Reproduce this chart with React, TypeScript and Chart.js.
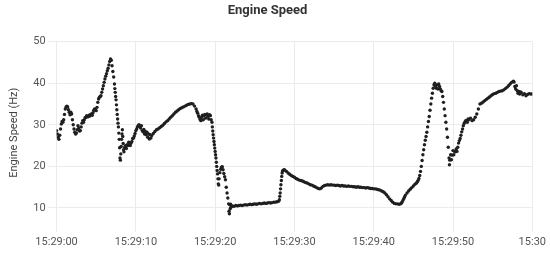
import React, { useEffect, useRef } from "react";
import { Chart, registerables } from "chart.js";

Chart.register(...registerables);

// seconds after 15:29:00
const secs = [
  0, 0.1, 0.2, 0.3, 0.4, 0.5, 0.6, 0.7, 0.8, 0.9, 1.0, 1.1, 1.2, 1.3, 1.4, 1.5, 1.6, 1.7, 1.8, 1.9,
  2.0, 2.1, 2.2, 2.3, 2.4, 2.5, 2.6, 2.7, 2.8, 2.9, 3.0, 3.1, 3.2, 3.3, 3.4, 3.5, 3.6, 3.7, 3.8, 3.9,
  4.0, 4.1, 4.2, 4.3, 4.4, 4.5, 4.6, 4.7, 4.8, 4.9, 5.0, 5.1, 5.2, 5.3, 5.4, 5.5, 5.6, 5.7, 5.8, 5.9,
  6.0, 6.1, 6.2, 6.3, 6.4, 6.5, 6.6, 6.7, 6.8, 6.9, 7.0, 7.1, 7.2, 7.3, 7.35, 7.4, 7.45, 7.5, 7.55, 7.6,
  7.65, 7.7, 7.75, 7.8, 7.85, 7.9, 7.95, 8.0, 8.05, 8.1, 8.15, 8.2, 8.25, 8.3, 8.35, 8.4, 8.45, 8.5, 8.6, 8.7,
  8.8, 8.9, 9.0, 9.1, 9.2, 9.3, 9.4, 9.5, 9.6, 9.7, 9.8, 9.9, 10.0, 10.1, 10.2, 10.3, 10.4, 10.5, 10.6, 10.7,
  10.8, 10.9, 11.0, 11.1, 11.2, 11.3, 11.4, 11.5, 11.6, 11.7, 11.8, 11.9, 12.0, 12.2, 12.4, 12.6, 12.8, 13.0, 13.2, 13.4,
  13.6, 13.8, 14.0, 14.2, 14.4, 14.6, 14.8, 15.0, 15.2, 15.4, 15.6, 15.8, 16.0, 16.2, 16.4, 16.6, 16.8, 17.0, 17.2, 17.4,
  17.6, 17.7, 17.8, 17.9, 18.0, 18.1, 18.2, 18.3, 18.4, 18.5, 18.6, 18.7, 18.8, 18.9, 19.0, 19.1, 19.2, 19.3, 19.4, 19.5,
  19.6, 19.65, 19.7, 19.75, 19.8, 19.85, 19.9, 19.95, 20.0, 20.05, 20.1, 20.15, 20.2, 20.25, 20.3, 20.35, 20.4, 20.45, 20.5, 20.6,
  20.7, 20.8, 20.9, 21.0, 21.1, 21.2, 21.3, 21.4, 21.5, 21.6, 21.7, 21.75, 21.8, 21.85, 21.9, 21.95, 22.0, 22.1, 22.2, 22.4,
  22.6, 22.8, 23.0, 23.2, 23.4, 23.6, 23.8, 24.0, 24.2, 24.4, 24.6, 24.8, 25.0, 25.2, 25.4, 25.6, 25.8, 26.0, 26.2, 26.4,
  26.6, 26.8, 27.0, 27.2, 27.4, 27.6, 27.8, 28.0, 28.1, 28.15, 28.2, 28.25, 28.3, 28.35, 28.4, 28.45, 28.5, 28.6, 28.7, 28.8,
  29.0, 29.2, 29.4, 29.6, 29.8, 30.0, 30.2, 30.4, 30.6, 30.8, 31.0, 31.2, 31.4, 31.6, 31.8, 32.0, 32.2, 32.4, 32.6, 32.8,
  33.0, 33.2, 33.4, 33.6, 33.8, 34.0, 34.2, 34.4, 34.6, 34.8, 35.0, 35.2, 35.4, 35.6, 35.8, 36.0, 36.2, 36.4, 36.6, 36.8,
  37.0, 37.2, 37.4, 37.6, 37.8, 38.0, 38.2, 38.4, 38.6, 38.8, 39.0, 39.2, 39.4, 39.6, 39.8, 40.0, 40.2, 40.4, 40.6, 40.8,
  41.0, 41.2, 41.4, 41.6, 41.8, 42.0, 42.2, 42.4, 42.6, 42.8, 43.0, 43.2, 43.4, 43.5, 43.6, 43.7, 43.8, 43.9, 44.0, 44.2,
  44.4, 44.6, 44.8, 45.0, 45.2, 45.4, 45.5, 45.6, 45.7, 45.8, 45.9, 46.0, 46.1, 46.2, 46.3, 46.4, 46.5, 46.6, 46.7, 46.8,
  46.9, 47.0, 47.1, 47.2, 47.3, 47.4, 47.5, 47.6, 47.7, 47.8, 47.9, 48.0, 48.1, 48.2, 48.3, 48.4, 48.5, 48.6, 48.7, 48.8,
  48.9, 49.0, 49.1, 49.2, 49.3, 49.4, 49.5, 49.55, 49.6, 49.7, 49.8, 49.9, 50.0, 50.1, 50.2, 50.3, 50.4, 50.5, 50.6, 50.7,
  50.8, 50.9, 51.0, 51.1, 51.2, 51.3, 51.4, 51.5, 51.6, 51.7, 51.8, 51.9, 52.0, 52.2, 52.4, 52.6, 52.8, 53.0, 53.2, 53.4,
  53.6, 53.8, 54.0, 54.2, 54.4, 54.6, 54.8, 55.0, 55.2, 55.4, 55.6, 55.8, 56.0, 56.2, 56.4, 56.6, 56.8, 57.0, 57.2, 57.4,
  57.6, 57.7, 57.8, 57.9, 58.0, 58.1, 58.2, 58.3, 58.4, 58.5, 58.6, 58.8, 59.0, 59.2, 59.4, 59.6, 59.8, 60.0,
];

// Engine speed (Hz)
const hz = [
  28.6, 27.8, 27.0, 26.5, 27.5, 29.0, 30.2, 30.8, 30.6, 31.2, 32.5, 33.8, 34.3, 34.5, 34.3, 33.6, 33.0, 32.4, 33.0, 32.6,
  31.2, 30.0, 29.0, 28.2, 27.8, 28.0, 28.8, 29.8, 29.2, 28.5, 28.6, 29.5, 30.4, 31.0, 30.6, 31.2, 31.7, 31.8, 32.2, 31.9,
  32.0, 32.3, 32.1, 32.5, 32.6, 32.3, 32.9, 33.5, 33.8, 33.6, 33.4, 34.2, 35.4, 36.2, 36.6, 36.8, 37.0, 37.8, 38.6, 39.4,
  40.2, 41.0, 41.7, 42.3, 43.0, 43.6, 44.4, 45.2, 45.8, 45.5, 44.2, 42.8, 41.5, 39.8, 38.7, 37.8, 36.8, 36.0, 34.8, 33.6,
  32.5, 31.4, 30.4, 29.5, 28.0, 26.5, 24.5, 22.0, 21.5, 23.0, 24.8, 26.5, 27.8, 28.8, 27.2, 25.5, 24.0, 23.5, 24.6, 25.0,
  24.3, 25.2, 25.0, 25.8, 25.3, 25.0, 25.6, 26.0, 26.7, 26.8, 27.3, 27.9, 28.6, 29.0, 29.5, 29.8, 30.0, 29.6, 29.2, 29.8,
  28.6, 28.3, 28.9, 27.8, 28.4, 27.6, 28.2, 27.0, 27.8, 26.6, 27.6, 26.8, 27.4, 27.9, 28.4, 28.8, 29.0, 29.3, 29.6, 29.9,
  30.3, 30.7, 31.0, 31.4, 31.8, 32.2, 32.6, 33.0, 33.3, 33.6, 33.9, 34.1, 34.3, 34.5, 34.7, 34.9, 35.0, 35.1, 35.0, 34.5,
  33.8, 33.2, 32.8, 32.2, 31.8, 31.3, 31.0, 31.8, 32.3, 31.2, 32.2, 32.5, 31.6, 32.4, 32.6, 32.0, 31.4, 32.4, 32.2, 31.2,
  30.6, 29.5, 28.5, 27.6, 26.8, 26.0, 25.2, 24.4, 23.6, 22.8, 22.0, 21.0, 20.0, 19.0, 18.2, 17.0, 15.8, 15.5, 17.0, 18.5,
  19.3, 19.8, 19.9, 19.2, 18.3, 17.5, 16.8, 15.0, 13.6, 12.4, 11.0, 9.2, 8.6, 10.8, 9.8, 10.9, 10.2, 10.4, 10.5, 10.4,
  10.6, 10.5, 10.6, 10.7, 10.6, 10.7, 10.8, 10.7, 10.8, 10.9, 10.8, 10.9, 11.0, 10.9, 11.0, 11.1, 11.0, 11.1, 11.2, 11.1,
  11.2, 11.3, 11.2, 11.3, 11.4, 11.4, 11.5, 11.6, 12.0, 12.8, 13.6, 14.6, 15.6, 16.6, 17.6, 18.4, 18.9, 19.1, 19.2, 19.1,
  18.8, 18.4, 18.1, 17.8, 17.6, 17.4, 17.1, 16.9, 16.7, 16.6, 16.5, 16.3, 16.1, 16.0, 15.8, 15.6, 15.5, 15.3, 15.1, 14.9,
  14.7, 14.6, 14.8, 15.2, 15.4, 15.5, 15.6, 15.5, 15.6, 15.5, 15.5, 15.4, 15.5, 15.4, 15.3, 15.4, 15.3, 15.3, 15.2, 15.3,
  15.2, 15.2, 15.1, 15.1, 15.0, 15.1, 15.0, 15.0, 14.9, 14.9, 14.8, 14.9, 14.8, 14.7, 14.7, 14.6, 14.6, 14.5, 14.4, 14.3,
  14.1, 13.9, 13.6, 13.2, 12.7, 12.2, 11.8, 11.4, 11.1, 11.0, 11.0, 10.9, 11.0, 11.2, 11.5, 11.9, 12.3, 12.7, 13.1, 13.6,
  14.1, 14.5, 14.9, 15.3, 15.7, 16.0, 16.3, 16.6, 17.1, 17.8, 18.8, 20.0, 21.4, 22.8, 24.0, 25.2, 26.3, 27.2, 28.2, 29.5,
  30.8, 32.0, 33.5, 35.0, 36.4, 37.6, 38.8, 39.6, 40.0, 39.2, 38.8, 39.6, 38.6, 39.8, 39.2, 38.6, 38.2, 38.0, 36.8, 35.4,
  33.8, 32.2, 30.6, 29.0, 27.0, 24.6, 22.0, 20.4, 21.5, 22.8, 21.6, 22.7, 23.8, 22.8, 23.6, 23.5, 24.2, 23.6, 24.6, 25.6,
  26.2, 26.7, 27.5, 28.3, 29.0, 29.8, 30.3, 30.7, 31.0, 31.0, 30.6, 31.4, 31.2, 31.6, 31.0, 31.2, 31.8, 32.6, 33.8, 35.0,
  35.2, 35.5, 35.8, 36.1, 36.4, 36.7, 37.0, 37.3, 37.5, 37.6, 37.8, 38.0, 38.1, 38.2, 38.4, 38.7, 39.0, 39.4, 39.8, 40.2,
  40.5, 40.3, 39.2, 38.6, 39.4, 38.2, 37.6, 38.0, 37.4, 37.9, 37.8, 37.2, 37.5, 37.0, 37.3, 37.5, 37.4, 37.4,
];

const xTickValues = [0, 10, 20, 30, 40, 50, 60];
const xTickLabels = ["15:29:00", "15:29:10", "15:29:20", "15:29:30", "15:29:40", "15:29:50", "15:30"];
const yTickValues = [10, 20, 30, 40, 50];

const FONT = "Roboto, 'Noto Sans', sans-serif";

export default function App() {
  const ref = useRef<HTMLCanvasElement>(null);

  useEffect(() => {
    const points = secs.map((s, i) => ({ x: s, y: hz[i] }));
    const chart = new Chart(ref.current as HTMLCanvasElement, {
      type: "scatter",
      data: {
        datasets: [
          {
            label: "Engine Speed",
            data: points,
            pointRadius: 1.7,
            pointBorderWidth: 0,
            pointBackgroundColor: "#1f1f1f",
            pointHoverRadius: 1.7,
            showLine: false,
          },
        ],
      },
      options: {
        animation: false,
        responsive: true,
        maintainAspectRatio: false,
        layout: { padding: { left: 0, right: 15, top: 3, bottom: 4 } },
        plugins: {
          legend: { display: false },
          tooltip: { enabled: false },
          title: {
            display: true,
            text: "Engine Speed",
            color: "#333333",
            font: { family: FONT, size: 13, weight: "bold" },
            padding: { top: 0, bottom: 23 },
          },
        },
        scales: {
          x: {
            type: "linear",
            min: 0,
            max: 60,
            afterBuildTicks: (scale: any) => {
              scale.ticks = xTickValues.map((v) => ({ value: v }));
            },
            ticks: {
              color: "#555555",
              font: { family: FONT, size: 11 },
              maxRotation: 0,
              padding: 4,
              callback: (v: any) => {
                const i = xTickValues.indexOf(Number(v));
                return i >= 0 ? xTickLabels[i] : "";
              },
            },
            grid: { color: "#ebebeb", tickLength: 8 },
            border: { display: false },
          },
          y: {
            type: "linear",
            min: 6.2,
            max: 50,
            afterBuildTicks: (scale: any) => {
              scale.ticks = yTickValues.map((v) => ({ value: v }));
            },
            ticks: {
              color: "#555555",
              font: { family: FONT, size: 11 },
              padding: 3,
            },
            grid: { color: "#ebebeb", tickLength: 8 },
            border: { display: false },
            title: {
              display: true,
              text: "Engine Speed (Hz)",
              color: "#444444",
              font: { family: FONT, size: 11 },
              padding: { top: 8, bottom: 9 },
            },
          },
        },
      },
    });
    return () => chart.destroy();
  }, []);

  return (
    <div style={{ position: "absolute", left: 0, top: 0, width: 550, height: 257 }}>
      <canvas ref={ref} />
    </div>
  );
}
